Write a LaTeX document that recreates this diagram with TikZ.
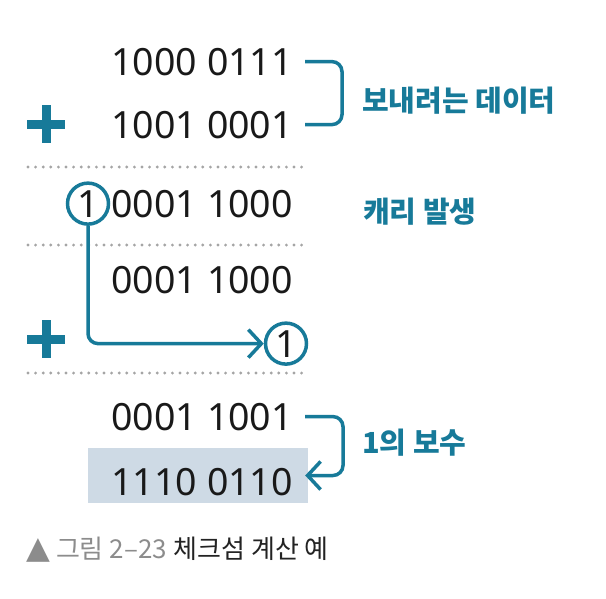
\documentclass[tikz,border=0pt]{standalone}
\usepackage{fontspec}
\setmainfont{Noto Sans}
\newfontfamily\kor{Noto Sans CJK KR}
\newfontfamily\dejavu{DejaVu Sans}
\usetikzlibrary{arrows.meta,calc}
\definecolor{tealc}{RGB}{23,122,153}
\definecolor{shadec}{RGB}{206,218,229}
\definecolor{dotc}{RGB}{165,165,165}
\definecolor{capgray}{RGB}{140,140,140}
\definecolor{capdark}{RGB}{35,35,35}
\tikzset{
  num/.style={font=\fontsize{37.5}{40}\selectfont, text=black!90, inner sep=0pt, anchor=base east},
  lbl/.style={font=\kor\bfseries\fontsize{29}{32}\selectfont, text=tealc, inner sep=0pt, anchor=west},
  ring/.style={circle, draw=tealc, line width=3.5pt, minimum size=41pt, inner sep=0pt, font=\fontsize{37.5}{40}\selectfont, text=black!90},
  conn/.style={draw=tealc, line width=3.5pt, rounded corners=10pt},
  tip/.style={-{Straight Barb[length=13pt,width=28pt,line width=3.5pt]}},
  dotline/.style={draw=dotc, line width=3.2pt, line cap=round, dash pattern=on 0pt off 7.6pt},
}
\begin{document}
\begin{tikzpicture}[x=1pt,y=-1pt]
\useasboundingbox (0,0) rectangle (606,598);
% shaded result box
\node[fill=shadec, minimum width=220pt, minimum height=55pt, inner sep=0pt] (shade) at (198,475.5) {};
% numbers
\node[num] (r1) at (293,75) {1000 0111};
\node[num] (r2) at (293,138) {1001 0001};
\node[num] (r3) at (293,217) {0001 1000};
\node[ring, anchor=base] (c1) at (88,217) {1};
\node[num] (r4) at (293,293) {0001 1000};
\node[ring, anchor=base] (c2) at (286,357) {1};
\node[num] (r5) at (293,430) {0001 1001};
\node[num] (r6) at (293,495) {1110 0110};
% plus signs
\fill[tealc] (27,119.5) rectangle (65,128.5);
\fill[tealc] (41.5,105) rectangle (50.5,143);
\fill[tealc] (27,334.5) rectangle (65,343.5);
\fill[tealc] (41.5,320) rectangle (50.5,358);
% dotted rules
\draw[dotline] (28,167) -- (308,167);
\draw[dotline] (28,245) -- (308,245);
\draw[dotline] (28,373) -- (308,373);
% brackets
\draw[conn] ([xshift=12pt]r1.east) -- ++(37pt,0) |- ([xshift=12pt]r2.east);
\node[lbl] (l1) at (362,101) {보내려는 데이터};
\node[lbl] (l2) at (363,212) {캐리 발생};
\draw[conn, tip] (c1.south) |- (c2.west);
\draw[conn, tip] ([xshift=12pt]r5.east) -- ++(38pt,0) |- ([xshift=-3pt]shade.east);
\node[lbl] (l3) at (362,443) {1의 보수};
% caption
\node[inner sep=0pt, anchor=base west, font=\fontsize{26}{29}\selectfont] (cap) at (26,558)
  {\textcolor{capgray}{{\dejavu\fontsize{31}{32}\selectfont ▲}\hspace{6pt}\kor 그림 2–23} \textcolor{capdark}{\kor 체크섬 계산 예}};
\end{tikzpicture}
\end{document}
